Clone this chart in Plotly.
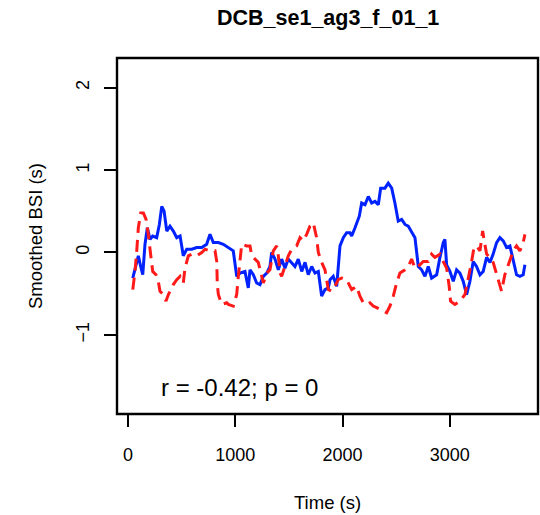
import plotly.graph_objects as go

# Blue series (solid)
blue_t = [44, 96, 118, 137, 158, 180, 205, 230, 267, 292, 314, 336, 361, 391, 422, 454, 485, 515,
          547, 594, 640, 687, 733, 764, 795, 842, 888, 951, 981, 1013, 1044, 1090, 1121, 1137, 1168,
          1199, 1230, 1261, 1293, 1323, 1339, 1370, 1401, 1432, 1463, 1494, 1526, 1556, 1587, 1619,
          1650, 1680, 1712, 1743, 1774, 1805, 1836, 1867, 1883, 1913, 1945, 1976, 2007, 2038, 2069,
          2085, 2116, 2156, 2178, 2209, 2240, 2271, 2302, 2333, 2355, 2395, 2426, 2458, 2488, 2519,
          2551, 2582, 2612, 2644, 2675, 2706, 2737, 2768, 2799, 2830, 2877, 2908, 2939, 2954, 2970,
          3001, 3032, 3063, 3094, 3125, 3156, 3187, 3218, 3249, 3281, 3311, 3343, 3374, 3404, 3436,
          3467, 3498, 3529, 3560, 3591, 3622, 3653, 3684, 3700]
blue_v = [-0.31, -0.04, -0.17, -0.27, 0.10, 0.30, 0.16, 0.20, 0.18, 0.34, 0.56, 0.50, 0.26, 0.32,
          0.26, 0.18, 0.20, -0.04, 0.04, 0.04, 0.06, 0.06, 0.10, 0.22, 0.12, 0.12, 0.10, 0.04, 0.02,
          -0.29, -0.25, -0.23, -0.43, -0.21, -0.27, -0.37, -0.39, -0.29, -0.25, -0.17, 0.00, -0.08,
          -0.21, -0.08, -0.19, -0.08, -0.12, -0.17, -0.08, -0.23, -0.12, -0.27, -0.17, -0.25, -0.23,
          -0.53, -0.45, -0.43, -0.33, -0.29, -0.41, 0.08, 0.18, 0.24, 0.24, 0.20, 0.30, 0.44, 0.60,
          0.58, 0.68, 0.60, 0.62, 0.58, 0.78, 0.78, 0.84, 0.78, 0.60, 0.38, 0.40, 0.34, 0.32, 0.24,
          0.18, -0.17, -0.21, -0.29, -0.17, -0.31, -0.27, -0.06, 0.12, 0.16, -0.15, -0.23, -0.35,
          -0.21, -0.25, -0.35, -0.51, -0.35, -0.11, -0.17, -0.27, -0.23, -0.06, -0.12, -0.02, 0.12,
          0.18, 0.14, 0.06, 0.08, -0.11, -0.27, -0.29, -0.27, -0.15]

# Red series (dashed)
red_t = [44, 65, 81, 96, 118, 143, 168, 189, 212, 230, 261, 282, 298, 329, 354, 376, 422, 454, 485,
         515, 531, 562, 594, 640, 687, 718, 764, 811, 827, 832, 842, 873, 920, 935, 981, 1013, 1028,
         1044, 1060, 1106, 1137, 1153, 1184, 1214, 1246, 1261, 1293, 1323, 1354, 1386, 1401, 1417,
         1432, 1463, 1494, 1526, 1572, 1603, 1634, 1665, 1696, 1727, 1758, 1774, 1805, 1836, 1867,
         1898, 1929, 1960, 1991, 2038, 2085, 2131, 2162, 2193, 2225, 2255, 2286, 2318, 2349, 2379,
         2411, 2442, 2473, 2504, 2535, 2582, 2612, 2644, 2675, 2721, 2752, 2799, 2830, 2861, 2908,
         2939, 2970, 2994, 3007, 3047, 3094, 3141, 3172, 3203, 3225, 3249, 3281, 3306, 3321, 3343,
         3374, 3404, 3451, 3482, 3513, 3544, 3591, 3622, 3653, 3684, 3700]
red_v = [-0.45, -0.23, 0.02, 0.30, 0.48, 0.48, 0.40, 0.22, -0.04, -0.23, -0.27, -0.35, -0.47, -0.51,
         -0.59, -0.51, -0.39, -0.33, -0.29, -0.37, -0.19, -0.04, -0.02, -0.04, 0.00, 0.04, 0.02, 0.02,
         -0.11, -0.39, -0.51, -0.63, -0.61, -0.63, -0.65, -0.51, -0.29, -0.04, 0.10, 0.08, 0.08, -0.04,
         -0.08, -0.12, -0.29, -0.37, -0.25, -0.21, 0.02, 0.08, -0.04, -0.25, -0.29, -0.17, -0.04, 0.04,
         0.08, 0.18, 0.14, 0.22, 0.32, 0.36, 0.18, 0.00, -0.12, -0.21, -0.45, -0.47, -0.41, -0.33,
         -0.31, -0.33, -0.45, -0.41, -0.53, -0.61, -0.63, -0.61, -0.65, -0.67, -0.69, -0.71, -0.73,
         -0.65, -0.53, -0.37, -0.25, -0.21, -0.17, -0.08, -0.19, -0.15, -0.11, -0.11, -0.02, -0.06,
         -0.02, -0.11, -0.19, -0.41, -0.59, -0.63, -0.59, -0.51, -0.33, -0.11, 0.06, 0.08, 0.02, 0.26,
         0.14, -0.02, -0.06, -0.12, -0.33, -0.47, -0.27, -0.15, 0.02, 0.08, 0.02, 0.12, 0.22]

x_ticks = [0, 1000, 2000, 3000]
y_ticks = [-1, 0, 1, 2]

title_text = "DCB_se1_ag3_f_01_1"
x_label = "Time (s)"
y_label = "Smoothed BSI (s)"
stat_text = "r = -0.42; p = 0"

FONT = "Liberation Sans, Arial, Helvetica, sans-serif"

fig = go.Figure()
fig.add_trace(go.Scatter(x=blue_t, y=blue_v, mode="lines",
                         line=dict(color="#0022FF", width=3), showlegend=False))
fig.add_trace(go.Scatter(x=red_t, y=red_v, mode="lines",
                         line=dict(color="#FF1A1A", width=3, dash="12px,7px"), showlegend=False))

fig.update_layout(
    width=540, height=515,
    margin=dict(l=117, r=2, t=58, b=101),
    paper_bgcolor="white", plot_bgcolor="white",
    font=dict(family=FONT, color="black", size=18),
    xaxis=dict(range=[-103, 3822], tickvals=x_ticks, ticks="outside", ticklen=12, tickwidth=2,
               tickcolor="black", showgrid=False, zeroline=False, showline=False,
               tickfont=dict(size=18, family=FONT), ticklabelstandoff=12),
    yaxis=dict(range=[-1.96, 2.36], tickvals=y_ticks, ticks="outside", ticklen=12, tickwidth=2,
               tickcolor="black", showgrid=False, zeroline=False, showline=False,
               tickangle=-90, tickfont=dict(size=18, family=FONT), ticklabelstandoff=8),
    shapes=[dict(type="rect", xref="paper", yref="paper", x0=0, y0=0, x1=1, y1=1,
                 line=dict(color="black", width=2.4))],
    annotations=[
        dict(text="<b>" + title_text + "</b>", xref="paper", yref="paper", x=0.5, y=1,
             xanchor="center", yanchor="middle", yshift=40, showarrow=False,
             font=dict(size=21.5, family=FONT)),
        dict(text=x_label, xref="paper", yref="paper", x=0.5, y=0, xanchor="center",
             yanchor="middle", yshift=-88, showarrow=False, font=dict(size=18.5, family=FONT)),
        dict(text=y_label, xref="paper", yref="paper", x=0, y=0.5, xanchor="center",
             yanchor="middle", xshift=-82, textangle=-90, showarrow=False,
             font=dict(size=18.5, family=FONT)),
        dict(text=stat_text, xref="x", yref="y", x=1042, y=-1.64, xanchor="center",
             yanchor="middle", showarrow=False, font=dict(size=24, family=FONT)),
    ],
)

fig.write_html("out.html")
